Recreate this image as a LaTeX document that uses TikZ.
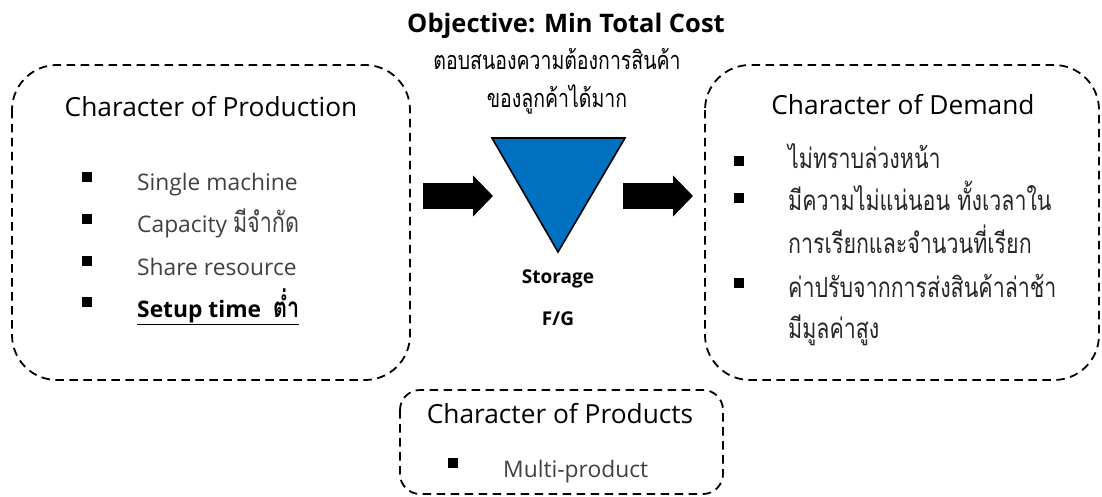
\documentclass[tikz,border=0pt]{standalone}
\usepackage{fontspec}
\setmainfont{Open Sans}
\newfontfamily\thai[Script=Thai, FakeStretch=0.77]{Loma}
\usetikzlibrary{arrows.meta}
\definecolor{storeblue}{HTML}{0070C0}
\definecolor{bodygrey}{HTML}{404040}
\tikzset{
  panel/.style={draw=black, line width=1.8pt, dash pattern=on 8.5pt off 5.5pt},
  heading/.style={anchor=base, inner sep=0pt, font=\fontsize{26.3}{30}\selectfont},
  item/.style={anchor=base west, inner sep=0pt, text=bodygrey, font=\fontsize{22.8}{26}\selectfont},
  thaiitem/.style={anchor=base west, inner sep=0pt, text=black!85, font=\thai\fontsize{27.8}{30}\selectfont},
  bullet/.style={fill=black, inner sep=0pt, minimum size=10pt},
  bigarrow/.style={line width=26pt, -{Triangle[length=20pt, width=40pt]}}
}
\newcommand{\thaibig}{\thai\fontsize{28}{30}\selectfont}
\begin{document}
\begin{tikzpicture}[x=1pt, y=-1pt]
\useasboundingbox (0,0) rectangle (1102,497);

% objective and its note
\node[anchor=base, inner sep=0pt, font=\bfseries\fontsize{25.5}{29}\selectfont] (obj) at (566,33) {Objective: Min Total Cost};
\node[anchor=base, inner sep=0pt, font=\thai\fontsize{25.3}{28}\selectfont] (note1) at (557,70) {ตอบสนองความต้องการสินค้า};
\node[anchor=base, inner sep=0pt, font=\thai\fontsize{25.3}{28}\selectfont] (note2) at (557,108) {ของลูกค้าได้มาก};

% production panel
\draw[panel, rounded corners=45pt] (12,65) rectangle (410,380);
\node[heading] (prodT) at (211,117) {Character of Production};
\node[bullet] (pb1) at (87,177) {};
\node[bullet] (pb2) at (87,219) {};
\node[bullet] (pb3) at (87,261) {};
\node[bullet] (pb4) at (87,302) {};
\node[item] (p1) at (137,190) {Single machine};
\node[item] (p2) at (137,232) {Capacity {\thaibig มีจำกัด}};
\node[item] (p3) at (137,275) {Share resource};
\node[item, text=black] (p4) at (137,317) {\underline{\bfseries Setup time\ \ {\thaibig\bfseries ต่ำ}}};

% storage
\coordinate (tl) at (492,138);
\coordinate (tr) at (625,138);
\coordinate (tb) at (558,252);
\draw[fill=storeblue, line width=1.6pt, line join=miter] (tl) -- (tr) -- (tb) -- cycle;
\node[anchor=base, inner sep=0pt, font=\bfseries\fontsize{19}{22}\selectfont] (st1) at (558,283) {Storage};
\node[anchor=base, inner sep=0pt, font=\bfseries\fontsize{19}{22}\selectfont] (st2) at (558,325) {F/G};

% flow arrows
\coordinate (a1s) at (423,196);
\coordinate (a1e) at (493,196);
\coordinate (a2s) at (623,196);
\coordinate (a2e) at (693,196);
\draw[bigarrow] (a1s) -- (a1e);
\draw[bigarrow] (a2s) -- (a2e);

% demand panel
\draw[panel, rounded corners=45pt] (705,65) rectangle (1099,380);
\node[heading] (demT) at (903,115) {Character of Demand};
\node[bullet] (db1) at (739,161) {};
\node[bullet] (db2) at (739,198) {};
\node[bullet] (db3) at (739,283) {};
\node[thaiitem] (d1) at (788,168) {ไม่ทราบล่วงหน้า};
\node[thaiitem] (d2) at (788,210) {มีความไม่แน่นอน ทั้งเวลาใน};
\node[thaiitem] (d3) at (788,253) {การเรียกและจำนวนที่เรียก};
\node[thaiitem] (d4) at (788,297) {ค่าปรับจากการส่งสินค้าล่าช้า};
\node[thaiitem] (d5) at (788,338) {มีมูลค่าสูง};

% products panel
\draw[panel, rounded corners=20pt] (400,390) rectangle (723,494);
\node[heading] (prdT) at (560,423) {Character of Products};
\node[bullet] (qb1) at (453,463) {};
\node[item] (q1) at (503,477) {Multi-product};
\end{tikzpicture}
\end{document}
